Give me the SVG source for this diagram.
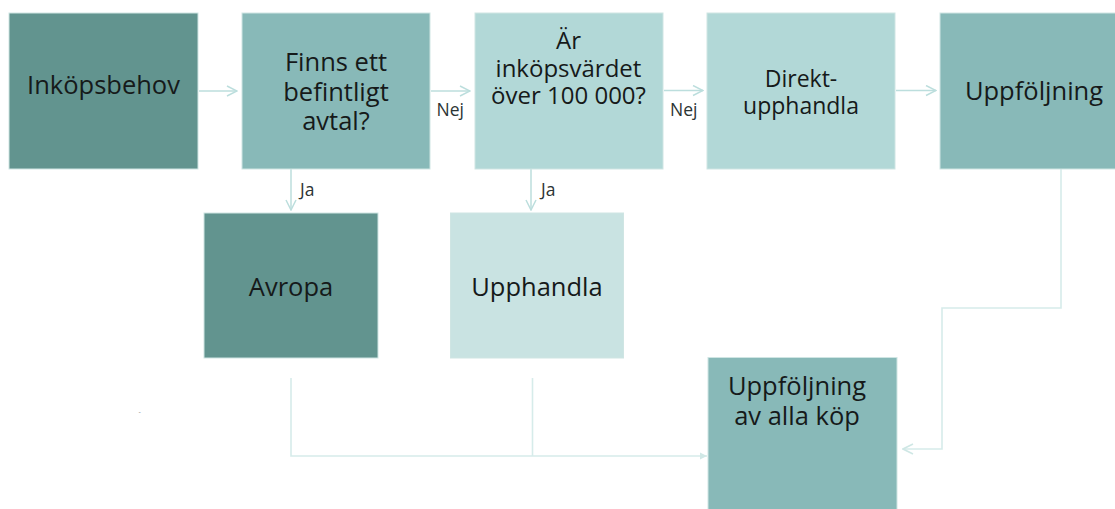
<svg xmlns="http://www.w3.org/2000/svg" width="1115" height="509" viewBox="0 0 1115 509">
  <style>
    .box { stroke: #cfe5e3; stroke-width: 1; }
    .dark { fill: #62948f; }
    .mid { fill: #88b9b8; }
    .light { fill: #b2d8d7; }
    .pale { fill: #c9e3e2; }
    .t { font-family: "Open Sans", "Liberation Sans", sans-serif; font-size: 25.5px; fill: #161a1a; text-anchor: middle; }
    .s { font-family: "Open Sans", "Liberation Sans", sans-serif; font-size: 17.5px; fill: #2b3434; }
    .c { fill: none; stroke: #bcdedd; stroke-width: 1.5; }
    .c2 { fill: none; stroke: #d6ecea; stroke-width: 1.6; }
  </style>
  <defs>
    <marker id="chev" viewBox="0 0 12 12" refX="11" refY="6" markerWidth="12" markerHeight="12" markerUnits="userSpaceOnUse" orient="auto">
      <path d="M1,1 L11,6 L1,11" fill="none" stroke="#bcdedd" stroke-width="1.5"/>
    </marker>
    <marker id="chev2" viewBox="0 0 12 12" refX="11" refY="6" markerWidth="12" markerHeight="12" markerUnits="userSpaceOnUse" orient="auto">
      <path d="M1,1 L11,6 L1,11" fill="none" stroke="#cfe7e5" stroke-width="1.6"/>
    </marker>
    <marker id="tri" viewBox="0 0 8 8" refX="7" refY="4" markerWidth="8" markerHeight="8" markerUnits="userSpaceOnUse" orient="auto">
      <path d="M0,0.5 L7,4 L0,7.5 Z" fill="#d0e8e6"/>
    </marker>
  </defs>

  <g id="connectors">
    <line class="c" x1="199" y1="91" x2="237" y2="91" marker-end="url(#chev)"/>
    <line class="c" x1="431" y1="91" x2="470" y2="91" marker-end="url(#chev)"/>
    <line class="c" x1="664" y1="90.5" x2="703" y2="90.5" marker-end="url(#chev)"/>
    <line class="c" x1="896" y1="90.5" x2="936" y2="90.5" marker-end="url(#chev)"/>
    <line class="c" x1="291" y1="169" x2="291" y2="210" marker-end="url(#chev)"/>
    <line class="c" x1="531" y1="169" x2="531" y2="210" marker-end="url(#chev)"/>
    <polyline class="c2" points="291,378 291,456 707,456" marker-end="url(#tri)"/>
    <line class="c2" x1="532.5" y1="378" x2="532.5" y2="456"/>
    <polyline class="c2" points="1061,169 1061,308 942,308 942,449 903,449" marker-end="url(#chev2)"/>
    <text class="s" x="436.5" y="116">Nej</text>
    <text class="s" x="670" y="116">Nej</text>
    <text class="s" x="300" y="196">Ja</text>
    <text class="s" x="541" y="196">Ja</text>
  </g>

  <g id="inkopsbehov">
    <rect class="box dark" x="9" y="13" width="189" height="156"/>
    <text class="t" x="103.5" y="94.3">Inköpsbehov</text>
  </g>

  <g id="finns-avtal">
    <rect class="box mid" x="242" y="13" width="188" height="156"/>
    <text class="t" x="336" y="71">Finns ett<tspan x="336" dy="29.5">befintligt</tspan><tspan x="336" dy="29.5">avtal?</tspan></text>
  </g>

  <g id="inkopsvardet">
    <rect class="box light" x="475" y="13" width="188" height="156"/>
    <text class="t" x="568.5" y="49.3" style="font-size:24px">Är<tspan x="568.5" dy="27.3">inköpsvärdet</tspan><tspan x="568.5" dy="27.4">över 100 000?</tspan></text>
  </g>

  <g id="direktupphandla">
    <rect class="box light" x="707" y="13" width="188" height="156"/>
    <text class="t" x="801" y="87.3" style="font-size:23px">Direkt-<tspan x="801" dy="26.7">upphandla</tspan></text>
  </g>

  <g id="uppfoljning">
    <rect class="box mid" x="940" y="13" width="188" height="156"/>
    <text class="t" x="1034" y="100">Uppföljning</text>
  </g>

  <g id="avropa">
    <rect class="box dark" x="204" y="213" width="174" height="145"/>
    <text class="t" x="291" y="295.7">Avropa</text>
  </g>

  <g id="upphandla">
    <rect class="box pale" x="450.5" y="213" width="173" height="145"/>
    <text class="t" x="537" y="295.7">Upphandla</text>
  </g>

  <g id="uppfoljning-alla">
    <rect class="box mid" x="708" y="357.5" width="189" height="152"/>
    <text class="t" x="797" y="394.5">Uppföljning<tspan x="797" dy="30">av alla köp</tspan></text>
  </g>

  <text x="138.5" y="414" style="font-family:'Liberation Sans',sans-serif;font-size:7px;fill:#9a9a9a">-</text>
</svg>
